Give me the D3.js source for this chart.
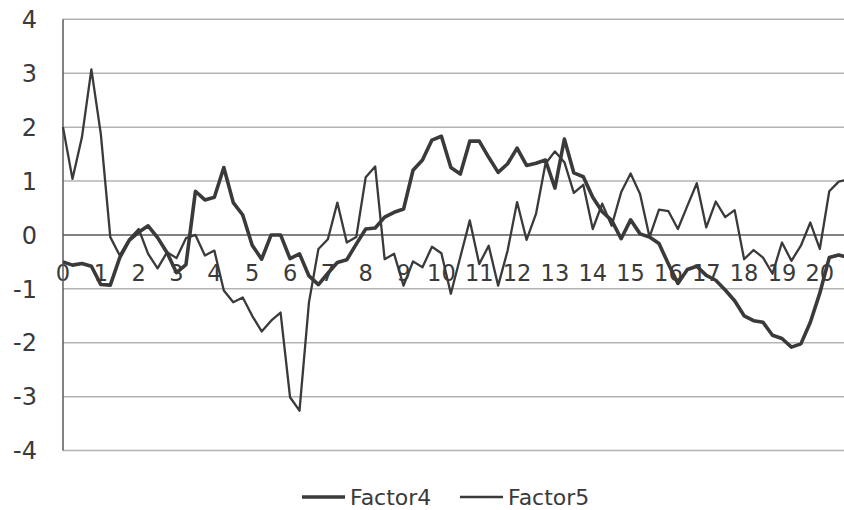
<!DOCTYPE html>
<html lang="en">
<head>
  <meta charset="UTF-8">
  <title>Factor4 / Factor5</title>
  <script src="https://d3js.org/d3.v7.min.js"></script>
  <style>
    body {
      margin: 0;
      background: #fff;
    }
    svg {
      display: block;
      font-family: "DejaVu Sans", sans-serif;
    }
    .tick-label {
      fill: #3a3a3a;
    }
  </style>
</head>
<body>

<svg width="844" height="510"></svg>

<script>
// values, one per category step
const factor4 = [
  -0.50, -0.56, -0.53, -0.58, -0.92, -0.93, -0.42, -0.10, 0.05, 0.17,
  -0.05, -0.33, -0.70, -0.55, 0.81, 0.65, 0.70, 1.25, 0.60, 0.37,
  -0.19, -0.45, 0.00, 0.00, -0.44, -0.35, -0.76, -0.92, -0.71, -0.51,
  -0.46, -0.17, 0.11, 0.13, 0.33, 0.42, 0.48, 1.20, 1.39, 1.76,
  1.83, 1.25, 1.13, 1.74, 1.74, 1.44, 1.16, 1.32, 1.61, 1.29,
  1.33, 1.39, 0.87, 1.78, 1.15, 1.08, 0.70, 0.43, 0.27, -0.07,
  0.28, 0.02, -0.04, -0.16, -0.54, -0.90, -0.64, -0.58, -0.75, -0.84,
  -1.02, -1.22, -1.50, -1.59, -1.62, -1.86, -1.92, -2.08, -2.02, -1.62,
  -1.08, -0.42, -0.37, -0.42
];

const factor5 = [
  2.00, 1.04, 1.81, 3.07, 1.87, -0.04, -0.38, -0.08, 0.11, -0.35,
  -0.62, -0.32, -0.43, -0.06, 0.00, -0.38, -0.29, -1.03, -1.25, -1.16,
  -1.50, -1.79, -1.59, -1.44, -3.01, -3.26, -1.25, -0.26, -0.08, 0.60,
  -0.14, -0.04, 1.07, 1.27, -0.45, -0.35, -0.94, -0.49, -0.60, -0.22,
  -0.34, -1.09, -0.41, 0.27, -0.54, -0.20, -0.94, -0.29, 0.61, -0.09,
  0.39, 1.32, 1.55, 1.35, 0.78, 0.93, 0.11, 0.58, 0.17, 0.79,
  1.14, 0.76, -0.04, 0.47, 0.44, 0.11, 0.54, 0.96, 0.14, 0.62,
  0.33, 0.46, -0.45, -0.28, -0.42, -0.72, -0.14, -0.48, -0.20, 0.23,
  -0.26, 0.81, 0.99, 1.03
];

const xTickLabels = ["0","1","2","3","4","5","6","7","8","9","10",
                     "11","12","13","14","15","16","17","18","19","20"];
const yTickValues = [4, 3, 2, 1, 0, -1, -2, -3, -4];
const seriesNames = ["Factor4", "Factor5"];

const svg = d3.select("svg");
const W = +svg.attr("width");

const plotLeft = 63, plotTop = 19.3, plotBottom = 450.6;
const step = 9.46;        // px between categories
const labelEvery = 4;     // one axis label every 4 categories

const x = d3.scaleLinear()
  .domain([0, factor4.length - 1])
  .range([plotLeft, plotLeft + step * (factor4.length - 1)]);

const y = d3.scaleLinear()
  .domain([-4, 4])
  .range([plotBottom, plotTop]);

// gridlines
svg.append("g")
  .selectAll("line")
  .data(yTickValues.filter(d => d !== 0))
  .enter().append("line")
  .attr("x1", plotLeft).attr("x2", W)
  .attr("y1", d => y(d)).attr("y2", d => y(d))
  .attr("stroke", "#b4b4b8")
  .attr("stroke-width", 1.5);

// y labels
svg.append("g")
  .selectAll("text")
  .data(yTickValues)
  .enter().append("text")
  .attr("class", "tick-label")
  .attr("x", 37)
  .attr("y", d => y(d))
  .attr("dy", "0.36em")
  .attr("text-anchor", "end")
  .style("font-size", "24px")
  .text(d => d);

// x labels, sitting under the zero line
svg.append("g")
  .selectAll("text")
  .data(xTickLabels)
  .enter().append("text")
  .attr("class", "tick-label")
  .attr("x", (d, i) => x(i * labelEvery))
  .attr("y", y(0) + 46)
  .attr("text-anchor", "middle")
  .style("font-size", "22.5px")
  .text(d => d);

// axis lines
svg.append("line")
  .attr("x1", plotLeft).attr("x2", W)
  .attr("y1", y(0)).attr("y2", y(0))
  .attr("stroke", "#5a5a5a")
  .attr("stroke-width", 1.5);

svg.append("line")
  .attr("x1", plotLeft).attr("x2", plotLeft)
  .attr("y1", plotTop).attr("y2", plotBottom)
  .attr("stroke", "#5a5a5a")
  .attr("stroke-width", 1.5);

const line = d3.line()
  .x((d, i) => x(i))
  .y(d => y(d));

svg.append("path")
  .datum(factor4)
  .attr("fill", "none")
  .attr("stroke", "#3a3a3a")
  .attr("stroke-width", 3.6)
  .attr("stroke-linejoin", "round")
  .attr("d", line);

svg.append("path")
  .datum(factor5)
  .attr("fill", "none")
  .attr("stroke", "#3a3a3a")
  .attr("stroke-width", 2.3)
  .attr("stroke-linejoin", "round")
  .attr("d", line);

// legend
const legendItems = [
  {name: seriesNames[0], x: 302, w: 3.6},
  {name: seriesNames[1], x: 460, w: 2.3}
];

const legend = svg.append("g").attr("transform", "translate(0,497)");

legend.selectAll("line")
  .data(legendItems)
  .enter().append("line")
  .attr("x1", d => d.x).attr("x2", d => d.x + 43)
  .attr("y1", 0).attr("y2", 0)
  .attr("stroke", "#3a3a3a")
  .attr("stroke-width", d => d.w);

legend.selectAll("text")
  .data(legendItems)
  .enter().append("text")
  .attr("class", "tick-label")
  .attr("x", d => d.x + 48)
  .attr("dy", "0.36em")
  .style("font-size", "22px")
  .text(d => d.name);
</script>
</body>
</html>
